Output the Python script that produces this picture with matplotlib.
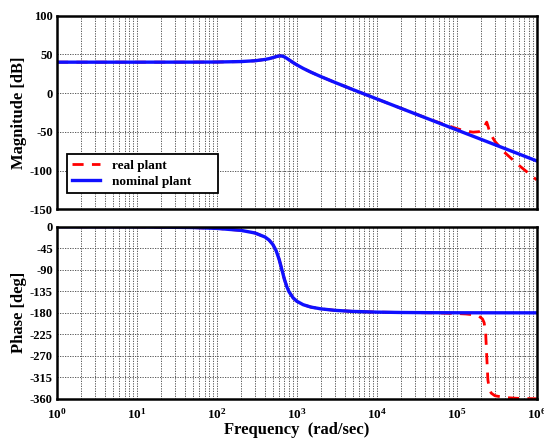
"""
Bode plot of the nominal and the real plant
"""
import math

import matplotlib

matplotlib.use("Agg")
import matplotlib.pyplot as plt
from matplotlib.ticker import FixedLocator, FuncFormatter, LogLocator, NullFormatter

# values
freq_nominal = [1, 10, 50, 100, 200, 300, 400, 450, 500, 550, 600, 650, 700, 750,
                800, 900, 1000, 1200, 1500, 2000, 3000, 5000, 1e4, 2e4, 5e4,
                1e5, 2e5, 5e5, 1e6]
mag_nominal = [40.0, 40.0, 40.05, 40.19, 40.78, 41.85, 43.5, 44.59, 45.83, 47.1,
               48.01, 47.96, 46.76, 44.91, 42.95, 39.4, 36.48, 31.97, 27.09, 21.35,
               13.81, 4.69, -7.45, -19.52, -35.44, -47.48, -59.52, -75.44, -87.48]
phase_nominal = [0.0, -0.35, -1.8, -3.6, -7.7, -13.2, -21.6, -28.0, -37.0, -50.0,
                 -68.2, -90.0, -110.4, -125.7, -136.3, -148.9, -155.8, -163.0,
                 -168.0, -171.7, -174.8, -177.0, -178.5, -179.25, -179.7, -179.85,
                 -179.9, -179.95, -180.0]

freq_real = [1, 10, 50, 100, 200, 300, 400, 450, 500, 550, 600, 650, 700, 750,
             800, 900, 1000, 1200, 1500, 2000, 3000, 5000, 1e4, 2e4, 5e4,
             1e5, 1.3e5, 1.6e5, 1.9e5, 2.1e5, 2.2e5, 2.3e5, 2.37e5, 2.45e5, 2.55e5,
             2.7e5, 3e5, 4e5, 6e5, 1e6]
mag_real = [40.0, 40.0, 40.05, 40.19, 40.78, 41.85, 43.5, 44.59, 45.83, 47.1,
            48.01, 47.96, 46.76, 44.91, 42.95, 39.4, 36.48, 31.97, 27.09, 21.35,
            13.81, 4.69, -7.45, -19.52, -35.2,
            -45.78, -48.94, -50.38, -49.76, -47.24, -44.57, -39.97, -37.43, -42.12,
            -48.29, -54.41, -62.22, -76.91, -93.27, -111.99]
phase_real = [0.0, -0.35, -1.8, -3.6, -7.7, -13.2, -21.6, -28.0, -37.0, -50.0,
              -68.2, -90.0, -110.4, -125.7, -136.3, -148.9, -155.8, -163.0,
              -168.0, -171.7, -174.8, -177.0, -178.5, -179.25, -180.0,
              -181.5, -182.4, -183.9, -187.1, -192.9, -200.5, -222.9, -269.9,
              -319.8, -339.0, -347.8, -353.2, -357.0, -358.8, -359.5]

mag_ticks = [100, 50, 0, -50, -100, -150]
phase_ticks = [0, -45, -90, -135, -180, -225, -270, -315, -360]

plt.rcParams["font.family"] = ["Liberation Serif", "DejaVu Serif"]
plt.rcParams["font.weight"] = "bold"
plt.rcParams["mathtext.fontset"] = "custom"
plt.rcParams["mathtext.rm"] = "Liberation Serif:bold"
plt.rcParams["mathtext.it"] = "Liberation Serif:bold"
plt.rcParams["mathtext.bf"] = "Liberation Serif:bold"
plt.rcParams["axes.unicode_minus"] = False

fig = plt.figure(figsize=(5.44, 4.40), dpi=100)
ax_mag = fig.add_axes([0.1048, 0.5243, 0.8818, 0.4400])
ax_ph = fig.add_axes([0.1048, 0.0932, 0.8818, 0.3916])

grid_kw = dict(color="0.25", linestyle=(0, (1.5, 1.5)), linewidth=0.6)

for ax in (ax_mag, ax_ph):
    ax.set_xscale("log")
    ax.set_xlim(1, 1e6)
    ax.xaxis.set_major_locator(LogLocator(base=10, numticks=10))
    ax.xaxis.set_minor_locator(LogLocator(base=10, subs=range(2, 10), numticks=20))
    ax.xaxis.set_minor_formatter(NullFormatter())
    ax.grid(True, which="major", axis="both", **grid_kw)
    ax.grid(True, which="minor", axis="x", **grid_kw)
    ax.tick_params(which="both", direction="in", length=0, labelsize=9, pad=3)
    for spine in ax.spines.values():
        spine.set_linewidth(1.8)
    ax.set_axisbelow(True)

# magnitude
ax_mag.plot(freq_real, mag_real, color="red", linestyle=(0, (4, 3)),
            linewidth=2, label="real plant")
ax_mag.plot(freq_nominal, mag_nominal, color="#1010ff", linewidth=2.4,
            label="nominal plant")
ax_mag.set_ylim(-150, 100)
ax_mag.yaxis.set_major_locator(FixedLocator(mag_ticks))
ax_mag.xaxis.set_major_formatter(NullFormatter())
ax_mag.set_ylabel("Magnitude [dB]", fontsize=12, fontweight="bold", labelpad=2)
leg = ax_mag.legend(loc="lower left", bbox_to_anchor=(0.0202, 0.083, 0.315, 0.19),
                    mode="expand", borderaxespad=0, fancybox=False, framealpha=1,
                    edgecolor="black", fontsize=9.5, handlelength=2.1,
                    handletextpad=0.9, borderpad=0.42, labelspacing=0.3)
leg.get_frame().set_linewidth(1.3)

# phase
ax_ph.plot(freq_real, phase_real, color="red", linestyle=(0, (4, 3)),
           linewidth=2)
ax_ph.plot(freq_nominal, phase_nominal, color="#1010ff", linewidth=2.4)
ax_ph.set_ylim(-360, 0)
ax_ph.yaxis.set_major_locator(FixedLocator(phase_ticks))
ax_ph.xaxis.set_major_formatter(
    FuncFormatter(lambda v, pos: r"$10^{%d}$" % round(math.log10(v)))
)
ax_ph.tick_params(axis="x", labelsize=9.5, pad=6)
ax_ph.set_ylabel("Phase [deg]", fontsize=12, fontweight="bold", labelpad=2)
ax_ph.set_xlabel("Frequency  (rad/sec)", fontsize=12, fontweight="bold",
                 labelpad=0)

fig.savefig("out.png", dpi=100)
